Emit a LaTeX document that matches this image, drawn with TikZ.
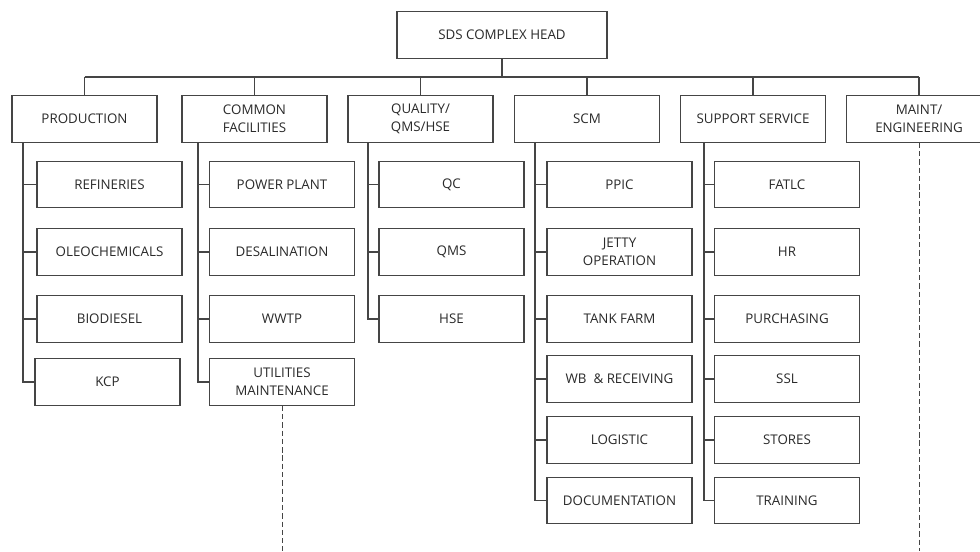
\documentclass[tikz,border=0pt]{standalone}
\usepackage{fontspec}
\setmainfont{Open Sans}
\definecolor{ln}{HTML}{454545}
\definecolor{tx}{HTML}{2A2A2A}
\begin{document}
\begin{tikzpicture}[x=0.75pt,y=-0.75pt,
  box/.style={draw=ln, line width=0.8pt, fill=white, text=tx, inner sep=0pt, align=center,
    font=\fontsize{10}{13.5}\selectfont, minimum width=108.75pt, minimum height=35pt},
  headbox/.style={box, minimum width=157.5pt},
  conn/.style={draw=ln, line width=0.8pt},
  dashline/.style={draw=ln, line width=0.7pt, dash pattern=on 4pt off 2.2pt}]
\useasboundingbox (0,0) rectangle (980,551);
% head
\node[headbox] (head) at (502,35) {SDS COMPLEX HEAD};
% level 1
\node[box] (prod) at (84.5,119) {PRODUCTION};
\node[box] (comm) at (254.5,119) {COMMON\\FACILITIES};
\node[box] (qual) at (420.5,119) {QUALITY/\\QMS/HSE};
\node[box] (scm) at (587,119) {SCM};
\node[box] (supp) at (753,119) {SUPPORT SERVICE};
\node[box] (maint) at (919,119) {MAINT/\\ENGINEERING};
% production children
\node[box] (ref) at (109.5,184.5) {REFINERIES};
\node[box] (oleo) at (109.5,252) {OLEOCHEMICALS};
\node[box] (bio) at (109.5,319) {BIODIESEL};
\node[box] (kcp) at (107.5,382) {KCP};
% common facilities children
\node[box] (pow) at (282,184.5) {POWER PLANT};
\node[box] (desal) at (282,252) {DESALINATION};
\node[box] (wwtp) at (282,319) {WWTP};
\node[box] (util) at (282,382) {UTILITIES\\MAINTENANCE};
% quality children
\node[box] (qc) at (451.5,184.5) {QC};
\node[box] (qms) at (451.5,252) {QMS};
\node[box] (hse) at (451.5,319) {HSE};
% scm children
\node[box] (ppic) at (619.5,184.5) {PPIC};
\node[box] (jetty) at (619.5,252) {JETTY\\OPERATION};
\node[box] (tank) at (619.5,319) {TANK FARM};
\node[box] (wb) at (619.5,379) {WB\ \ \& RECEIVING};
\node[box] (log) at (619.5,440) {LOGISTIC};
\node[box] (doc) at (619.5,500.5) {DOCUMENTATION};
% support children
\node[box] (fat) at (787,184.5) {FATLC};
\node[box] (hr) at (787,252) {HR};
\node[box] (pur) at (787,319) {PURCHASING};
\node[box] (ssl) at (787,379) {SSL};
\node[box] (sto) at (787,440) {STORES};
\node[box] (trn) at (787,500.5) {TRAINING};
% bus
\coordinate (bus) at (0,77);
\draw[conn] (head.south) -- (head.south |- bus);
\draw[conn] (prod.north |- bus) -- (maint.north |- bus);
\foreach \n in {prod,comm,qual,scm,supp,maint}
  \draw[conn] (\n.north) -- (\n.north |- bus);
% trunks
\coordinate (tP) at (23,142);
\coordinate (tC) at (198,142);
\coordinate (tQ) at (368,142);
\coordinate (tS) at (535,142);
\coordinate (tU) at (704,142);
\draw[conn] (tP) |- (kcp.west);
\foreach \n in {ref,oleo,bio} \draw[conn] (tP |- \n.west) -- (\n.west);
\draw[conn] (tC) |- (util.west);
\foreach \n in {pow,desal,wwtp} \draw[conn] (tC |- \n.west) -- (\n.west);
\draw[conn] (tQ) |- (hse.west);
\foreach \n in {qc,qms} \draw[conn] (tQ |- \n.west) -- (\n.west);
\draw[conn] (tS) |- (doc.west);
\foreach \n in {ppic,jetty,tank,wb,log} \draw[conn] (tS |- \n.west) -- (\n.west);
\draw[conn] (tU) |- (trn.west);
\foreach \n in {fat,hr,pur,ssl,sto} \draw[conn] (tU |- \n.west) -- (\n.west);
% dashed continuations
\coordinate (bottom) at (0,551);
\draw[dashline] (util.south) -- (util.south |- bottom);
\draw[dashline] (maint.south) -- (maint.south |- bottom);
\end{tikzpicture}
\end{document}
